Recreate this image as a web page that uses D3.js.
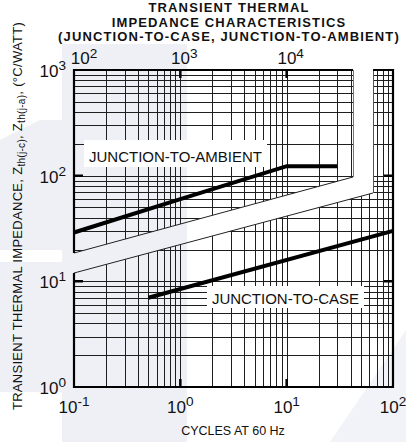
<!DOCTYPE html>
<html><head><meta charset="utf-8">
<script src="https://cdn.jsdelivr.net/npm/d3@7"></script>
<style>
body{margin:0;background:#fff}
svg{display:block}
text{font-family:"Liberation Sans",Arial,Helvetica,sans-serif;fill:#111}
</style>
</head><body>
<svg id="c" width="406" height="442"></svg>
<script>
// ---- data ----
const titleLines = ["TRANSIENT THERMAL", "IMPEDANCE CHARACTERISTICS", "(JUNCTION-TO-CASE, JUNCTION-TO-AMBIENT)"];
const xDomain = [0.1, 100];          // cycles at 60 Hz
const topDomain = [100, 100000];     // top scale
const yDomain = [1, 1000];           // °C/W
const bottomTickExps = [-1, 0, 1, 2];
const topTickExps = [2, 3, 4];
const leftTickExps = [0, 1, 2, 3];
const majorX = [1, 10];
const majorY = [10, 100];
const ambientCycles = [0.1, 1, 10, 30];
const ambientZ = [29, 60, 123, 123];
const caseCycles = [0.5, 100];
const caseZ = [7, 30];
const ambientLabel = "JUNCTION-TO-AMBIENT";
const caseLabel = "JUNCTION-TO-CASE";
const xTitle = "CYCLES AT 60 Hz";

// ---- layout ----
const W = 406, H = 442;
const L = 74, R = 393, T = 70, B = 387;
const svg = d3.select("#c");
const x = d3.scaleLog().domain(xDomain).range([L, R]);
const xt = d3.scaleLog().domain(topDomain).range([L, R]);
const y = d3.scaleLog().domain(yDomain).range([B, T]);
const px = v => Math.round(v) + 0.5;

// background watermark tint
const tint = "#eef0f6";
svg.append("rect").attr("x", 62).attr("y", 44).attr("width", 125).attr("height", H - 44).attr("fill", tint);
svg.append("rect").attr("x", 0).attr("y", 262).attr("width", 62).attr("height", 130).attr("fill", tint);
svg.append("path").attr("d", "M0,140 L40,120 L62,120 L62,250 L0,250 Z").attr("fill", tint);
svg.append("path").attr("d", "M330,442 L406,330 L406,442 Z").attr("fill", "#f1f3f8");

// break geometry (pixel layout)
const upperRightX = 353, lowerLeftX = 373;
const upEdgeL = 253, upEdgeR = 177;   // bottom edge of upper part
const loEdgeL = 273, loEdgeR = 193;   // top edge of lower part
const upperPoly = [[L, T], [upperRightX, T], [upperRightX, upEdgeR], [L, upEdgeL]];
const lowerPoly = [[L, loEdgeL], [lowerLeftX, loEdgeR], [lowerLeftX, T], [R, T], [R, B], [L, B]];

const defs = svg.append("defs");
defs.append("clipPath").attr("id", "cu").append("polygon").attr("points", upperPoly.map(p => p.join(",")).join(" "));
defs.append("clipPath").attr("id", "cl").append("polygon").attr("points", lowerPoly.map(p => p.join(",")).join(" "));

const xGrid = x.ticks();
const yGrid = y.ticks();
function grid(clip) {
  const g = svg.append("g").attr("clip-path", `url(#${clip})`);
  g.selectAll(".v").data(xGrid).join("line")
    .attr("x1", d => px(x(d))).attr("x2", d => px(x(d)))
    .attr("y1", T).attr("y2", B)
    .attr("stroke", "#1e1e1e").attr("stroke-width", 1);
  g.selectAll(".h").data(yGrid).join("line")
    .attr("y1", d => px(y(d))).attr("y2", d => px(y(d)))
    .attr("x1", L).attr("x2", R)
    .attr("stroke", "#1e1e1e").attr("stroke-width", 1);
  // major ticks inside frame
  g.selectAll(".mxb").data(majorX).join("line")
    .attr("x1", d => x(d)).attr("x2", d => x(d)).attr("y1", B).attr("y2", B - 8)
    .attr("stroke", "#000").attr("stroke-width", 2.5);
  g.selectAll(".mxt").data(majorX).join("line")
    .attr("x1", d => x(d)).attr("x2", d => x(d)).attr("y1", T).attr("y2", T + 8)
    .attr("stroke", "#000").attr("stroke-width", 2.5);
  g.selectAll(".myl").data(majorY).join("line")
    .attr("y1", d => y(d)).attr("y2", d => y(d)).attr("x1", L).attr("x2", L + 9)
    .attr("stroke", "#000").attr("stroke-width", 2.5);
  g.selectAll(".myr").data(majorY).join("line")
    .attr("y1", d => y(d)).attr("y2", d => y(d)).attr("x1", R).attr("x2", R - 9)
    .attr("stroke", "#000").attr("stroke-width", 2.5);
  return g;
}
grid("cu");
grid("cl");

// thin break edges
const thin = (x1, y1, x2, y2, c) => svg.append("line").attr("x1", x1).attr("y1", y1).attr("x2", x2).attr("y2", y2)
  .attr("stroke", c || "#222").attr("stroke-width", 1);
thin(L, upEdgeL, upperRightX, upEdgeR);
thin(px(upperRightX), T, px(upperRightX), upEdgeR, "#777");
thin(L, loEdgeL, lowerLeftX, loEdgeR);
thin(px(lowerLeftX), T, px(lowerLeftX), loEdgeR, "#555");

// thick frame
const thick = (pts) => svg.append("polyline").attr("points", pts.map(p => p.join(",")).join(" "))
  .attr("fill", "none").attr("stroke", "#000").attr("stroke-width", 2.2);
thick([[L, upEdgeL], [L, T], [upperRightX, T]]);
thick([[lowerLeftX, T], [R, T], [R, B], [L, B], [L, loEdgeL]]);

// curve labels with white boxes
function label(text, cx0, cx1, yb, boxY0, boxY1) {
  svg.append("rect").attr("x", cx0).attr("y", boxY0).attr("width", cx1 - cx0).attr("height", boxY1 - boxY0).attr("fill", "#fff");
  svg.append("text").attr("x", (cx0 + cx1) / 2).attr("y", yb).attr("text-anchor", "middle")
    .attr("font-size", 15).text(text);
}
label(ambientLabel, 84, 267, 162, 140, 167);
label(caseLabel, 207, 364, 304, 286, 308);

// curves
const line = d3.line().x(d => x(d[0])).y(d => y(d[1]));
svg.append("path").attr("d", line(d3.zip(ambientCycles, ambientZ)))
  .attr("fill", "none").attr("stroke", "#000").attr("stroke-width", 4).attr("stroke-linejoin", "miter");
svg.append("path").attr("d", line(d3.zip(caseCycles, caseZ)))
  .attr("fill", "none").attr("stroke", "#000").attr("stroke-width", 4);

// power-of-ten labels
function pow10(g, exp, fs, sup) {
  g.append("tspan").text("10");
  g.append("tspan").attr("dy", sup).attr("font-size", fs * 0.8).text(String(exp));
}
bottomTickExps.forEach(e => {
  const t = svg.append("text").attr("x", x(Math.pow(10, e))).attr("y", 413).attr("text-anchor", "middle").attr("font-size", 17);
  pow10(t, e, 17, -7);
});
topTickExps.forEach((e, i) => {
  const t = svg.append("text").attr("x", xt(Math.pow(10, e)) + (i === 0 ? 10 : 4)).attr("y", 64).attr("text-anchor", "middle").attr("font-size", 17);
  pow10(t, e, 17, -6.5);
});
leftTickExps.forEach(e => {
  const t = svg.append("text").attr("x", 66).attr("y", y(Math.pow(10, e)) + 7).attr("text-anchor", "end").attr("font-size", 17);
  pow10(t, e, 17, -7);
});

// titles
titleLines.forEach((s, i) => {
  svg.append("text").attr("x", 229).attr("y", 12 + i * 14.5).attr("text-anchor", "middle")
    .attr("font-size", 13).attr("letter-spacing", 1.15).attr("font-weight", "bold").text(s);
});
svg.append("text").attr("x", 233).attr("y", 435).attr("text-anchor", "middle").attr("font-size", 12.5).text(xTitle);

// y title
const yt = svg.append("text").attr("transform", "translate(22,216) rotate(-90)").attr("text-anchor", "middle")
  .attr("font-size", 13).attr("letter-spacing", 0.3);
yt.append("tspan").text("TRANSIENT THERMAL IMPEDANCE, Z");
yt.append("tspan").attr("dy", 3).attr("font-size", 10).text("th(j-c)");
yt.append("tspan").attr("dy", -3).text(", Z");
yt.append("tspan").attr("dy", 3).attr("font-size", 10).text("th(j-a)");
yt.append("tspan").attr("dy", -3).text(", (°C/WATT)");
</script>
</body></html>
